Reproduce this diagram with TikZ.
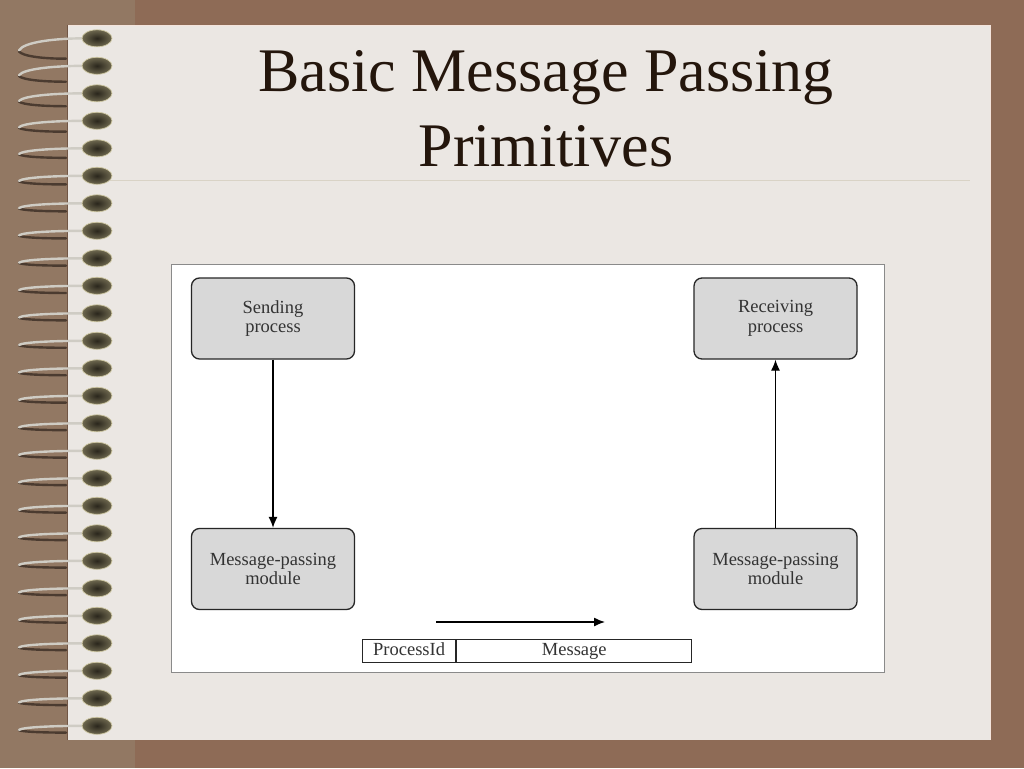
\documentclass[tikz,border=0pt]{standalone}
\usepackage{fontspec}
\setmainfont{Liberation Serif}
\usetikzlibrary{arrows.meta}

\definecolor{board}{HTML}{8E6B56}
\definecolor{boardstrip}{HTML}{927863}
\definecolor{paper}{HTML}{EBE7E3}
\definecolor{paperedge}{HTML}{F4E4DC}
\definecolor{ink}{HTML}{24160C}
\definecolor{rulecol}{HTML}{D9D3C6}
\definecolor{framegray}{HTML}{8A8A8A}
\definecolor{boxgray}{HTML}{D8D8D8}
\definecolor{textgray}{HTML}{333333}
\definecolor{holedark}{HTML}{2A261C}
\definecolor{holemid}{HTML}{6E684F}
\definecolor{holerim}{HTML}{CFC8A4}
\definecolor{wirelight}{HTML}{CFCCC4}
\definecolor{wiredark}{HTML}{4B3B30}

\tikzset{
  module/.style={draw=black!85, line width=1.3pt, fill=boxgray, rounded corners=8pt,
    minimum width=163pt, minimum height=81pt, align=center, text=textgray,
    font=\fontsize{18.5}{19.5}\selectfont},
  cell/.style={draw=black!85, line width=1.2pt, minimum height=23pt, inner sep=0pt,
    text height=13pt, text depth=4pt, text=textgray, font=\fontsize{18.5}{19.5}\selectfont},
  flow/.style={line width=1.3pt, -{Latex[length=11pt,width=9pt]}},
  wire front/.style={draw=wirelight, line width=2.4pt, line cap=round},
  wire back/.style={draw=wiredark, line width=2.4pt, line cap=round},
  hole/.style={inner color=holedark, outer color=holemid, draw=holerim, line width=0.7pt},
}

\begin{document}
\begin{tikzpicture}[x=1pt,y=-1pt]
\useasboundingbox (0,0) rectangle (1024,768);
\fill[board] (0,0) rectangle (1024,768);
\fill[boardstrip] (0,0) rectangle (135,768);
\fill[paper] (67,25) rectangle (991,740);
\draw[paperedge, line width=1.5pt] (67,25.5) -- (990.5,25.5) -- (990.5,740);
\draw[board!80!black, line width=1pt] (67,25) -- (67,740);

\node[font=\fontsize{62}{75}\selectfont, text=ink, align=center] (title) at (546,108.5)
  {Basic Message Passing\\Primitives};
\draw[rulecol, line width=1pt] (110,180) -- (970,180);

\draw[draw=framegray, fill=white, line width=1pt] (171,264) rectangle (884,672);

\node[module] (send) at (273,318.5) {Sending\\process};
\node[module] (recv) at (775.5,318.5) {Receiving\\process};
\node[module] (mpl) at (273,569) {Message-passing\\module};
\node[module] (mpr) at (775.5,569) {Message-passing\\module};

\draw[flow] (send) -- (mpl);
\draw[flow] (mpr) -- (recv);

\coordinate (m0) at (436,622);
\coordinate (m1) at (605,622);
\draw[flow] (m0) -- (m1);

\node[cell, minimum width=93pt, anchor=west] (pid) at (362,651) {ProcessId};
\node[cell, minimum width=235pt, anchor=west] (msg) at (pid.east) {Message};

\foreach \k in {0,...,25}{
  \pgfmathsetmacro\yy{38.3+27.5*\k}
  \pgfmathsetmacro\dd{4+8*exp(-\k/2.5)}
  \draw[wire back] (66,\yy+1.7*\dd) .. controls (32,\yy+1.7*\dd) and (18,\yy+1.3*\dd) .. (19,\yy+\dd);
  \draw[wire front] (19,\yy+\dd) .. controls (24,\yy+0.3*\dd) and (55,\yy) .. (86,\yy);
  \shade[hole] (97,\yy) ellipse (15 and 8.5);
}
\end{tikzpicture}
\end{document}
